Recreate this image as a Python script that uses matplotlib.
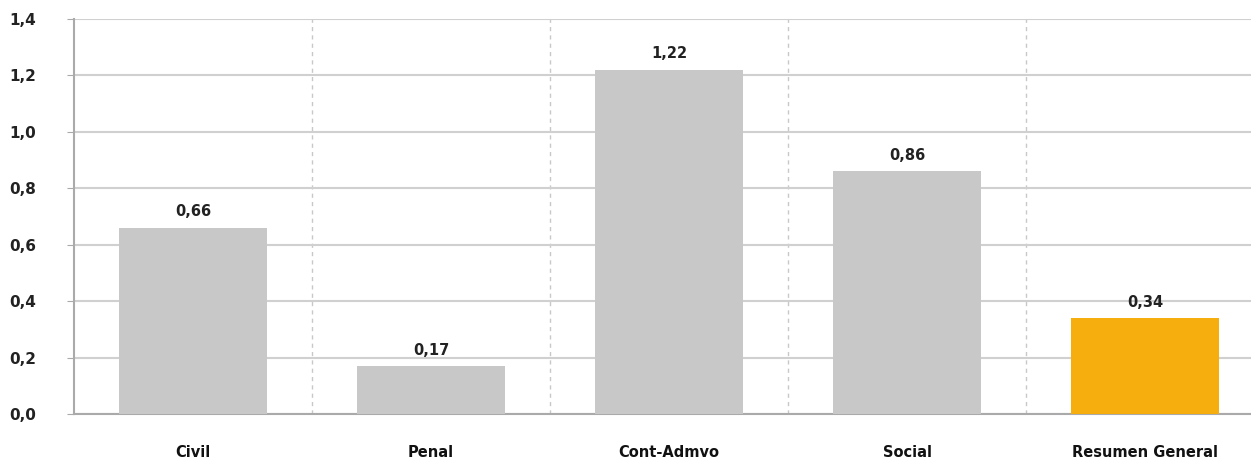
import matplotlib
matplotlib.use("Agg")
import matplotlib.pyplot as plt

categories = ["Civil", "Penal", "Cont-Admvo", "Social", "Resumen General"]
values = [0.66, 0.17, 1.22, 0.86, 0.34]
labels = ["0,66", "0,17", "1,22", "0,86", "0,34"]
colors = ["#c8c8c8", "#c8c8c8", "#c8c8c8", "#c8c8c8", "#f6ae0e"]
yticks = [0.0, 0.2, 0.4, 0.6, 0.8, 1.0, 1.2, 1.4]
ytick_labels = ["0,0", "0,2", "0,4", "0,6", "0,8", "1,0", "1,2", "1,4"]

W, H = 1251, 467
fig = plt.figure(figsize=(W / 100, H / 100), dpi=100)
left, right = 74, 1264
bottom, top = 414, 19
ax = fig.add_axes([left / W, 1 - bottom / H, (right - left) / W, (bottom - top) / H])

x = list(range(len(categories)))
ax.bar(x, values, width=0.62, color=colors, zorder=3)
for xi, v, lab in zip(x, values, labels):
    ax.text(xi, v + 0.03, lab, ha="center", va="bottom", fontsize=10.5,
            fontweight="bold", color="#222222")

ax.set_xlim(-0.5, 4.5)
ax.set_ylim(0, 1.4)
ax.set_yticks(yticks)
ax.set_yticklabels(ytick_labels, fontsize=11, fontweight="bold", color="#222222")
ax.set_xticks(x)
ax.set_xticklabels(categories, fontsize=10.5, fontweight="bold", color="#111111")
ax.tick_params(axis="x", length=0, pad=22)
ax.tick_params(axis="y", length=5, color="#aaaaaa", pad=22)

ax.yaxis.grid(True, color="#d0d0d0", linewidth=1.5, zorder=0)
for b in [0.5, 1.5, 2.5, 3.5]:
    ax.axvline(b, color="#c8c8c8", linestyle=(0, (3, 3)), linewidth=1, zorder=0)

for s in ["top", "right"]:
    ax.spines[s].set_visible(False)
ax.spines["left"].set_color("#aaaaaa")
ax.spines["left"].set_linewidth(1.5)
ax.spines["bottom"].set_color("#aaaaaa")
ax.spines["bottom"].set_linewidth(1.5)

fig.savefig("out.png", dpi=100)
